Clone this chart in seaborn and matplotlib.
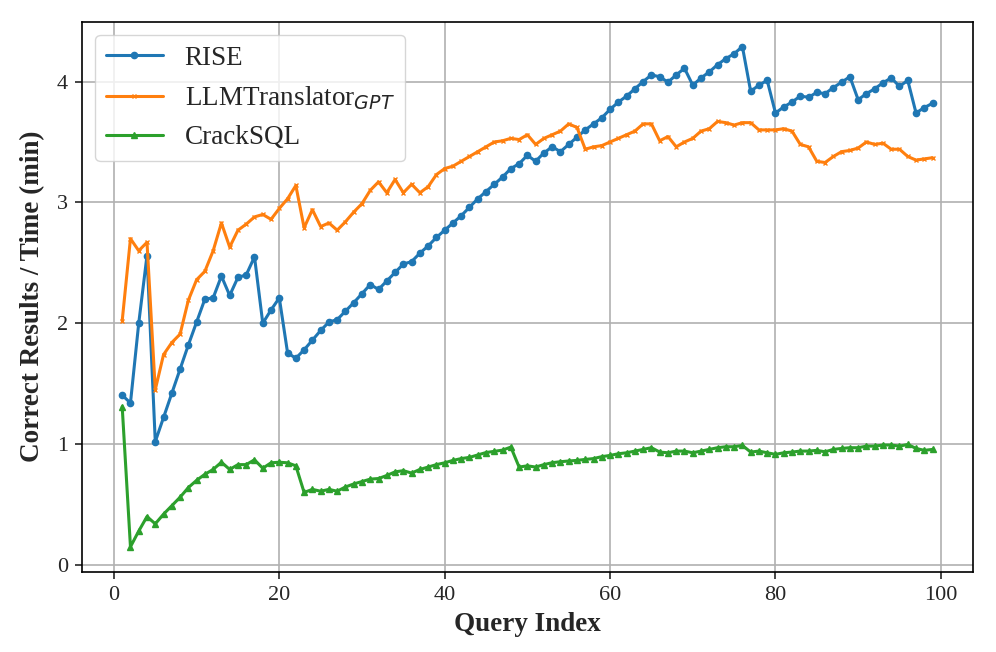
import numpy as np
import pandas as pd
import matplotlib
matplotlib.use("Agg")
import matplotlib.pyplot as plt
import seaborn as sns

# query index 1..99
query_idx = list(range(1, 100))

rise = [1.405, 1.34, 2.00, 2.56, 1.02, 1.22, 1.42, 1.62, 1.82, 2.01,
        2.20, 2.21, 2.39, 2.23, 2.38, 2.40, 2.55, 2.00, 2.11, 2.21,
        1.755, 1.71, 1.78, 1.86, 1.94, 2.01, 2.03, 2.10, 2.17, 2.245,
        2.32, 2.28, 2.35, 2.42, 2.49, 2.51, 2.58, 2.64, 2.71, 2.77,
        2.83, 2.89, 2.96, 3.03, 3.09, 3.15, 3.21, 3.28, 3.32, 3.39,
        3.34, 3.41, 3.46, 3.42, 3.48, 3.54, 3.60, 3.65, 3.70, 3.77,
        3.83, 3.88, 3.94, 4.00, 4.055, 4.04, 3.995, 4.055, 4.11, 3.97,
        4.03, 4.08, 4.14, 4.19, 4.23, 4.29, 3.92, 3.97, 4.01, 3.74,
        3.79, 3.83, 3.88, 3.87, 3.91, 3.90, 3.95, 3.995, 4.04, 3.85,
        3.90, 3.94, 3.99, 4.03, 3.96, 4.01, 3.74, 3.785, 3.82]

llm_gpt = [2.02, 2.70, 2.60, 2.67, 1.45, 1.74, 1.84, 1.91, 2.19, 2.36,
           2.43, 2.60, 2.83, 2.63, 2.77, 2.82, 2.88, 2.90, 2.86, 2.95,
           3.03, 3.14, 2.79, 2.94, 2.80, 2.83, 2.77, 2.84, 2.92, 2.99,
           3.10, 3.17, 3.08, 3.19, 3.08, 3.15, 3.08, 3.13, 3.23, 3.28,
           3.30, 3.34, 3.38, 3.42, 3.46, 3.50, 3.51, 3.53, 3.52, 3.56,
           3.48, 3.53, 3.56, 3.59, 3.65, 3.62, 3.44, 3.46, 3.47, 3.50,
           3.53, 3.56, 3.59, 3.65, 3.65, 3.51, 3.545, 3.46, 3.50, 3.53,
           3.59, 3.61, 3.67, 3.66, 3.64, 3.66, 3.66, 3.60, 3.60, 3.60,
           3.61, 3.59, 3.48, 3.46, 3.34, 3.33, 3.38, 3.42, 3.43, 3.45,
           3.50, 3.48, 3.49, 3.44, 3.44, 3.38, 3.35, 3.36, 3.37]

cracksql = [1.31, 0.15, 0.28, 0.40, 0.34, 0.42, 0.49, 0.56, 0.64, 0.70,
            0.75, 0.79, 0.85, 0.79, 0.83, 0.83, 0.87, 0.80, 0.845, 0.85,
            0.845, 0.82, 0.60, 0.625, 0.61, 0.625, 0.61, 0.645, 0.67, 0.69,
            0.71, 0.715, 0.74, 0.77, 0.78, 0.76, 0.79, 0.81, 0.83, 0.845,
            0.865, 0.88, 0.89, 0.91, 0.93, 0.94, 0.95, 0.975, 0.81, 0.82,
            0.81, 0.83, 0.846, 0.854, 0.86, 0.865, 0.873, 0.88, 0.896, 0.906,
            0.92, 0.928, 0.942, 0.956, 0.97, 0.934, 0.928, 0.942, 0.942, 0.928,
            0.942, 0.956, 0.97, 0.978, 0.978, 0.989, 0.934, 0.942, 0.928, 0.915,
            0.928, 0.934, 0.942, 0.942, 0.948, 0.936, 0.956, 0.964, 0.97, 0.97,
            0.983, 0.983, 0.992, 0.992, 0.983, 0.997, 0.964, 0.948, 0.956]

names = ["RISE", "LLMTranslator$_{GPT}$", "CrackSQL"]
colors = ["#1f77b4", "#ff7f0e", "#2ca02c"]
markers = ["o", "x", "^"]
msizes = [4.5, 3.5, 5]

df = pd.DataFrame({"query": query_idx * 3,
                   "value": rise + llm_gpt + cracksql,
                   "method": [n for n in names for _ in query_idx]})

sns.set_style("ticks")
plt.rcParams["font.family"] = ["Liberation Serif", "DejaVu Sans"]

fig, ax = plt.subplots(figsize=(9.96, 6.52), dpi=100)
fig.subplots_adjust(left=0.082, right=0.977, top=0.967, bottom=0.123)

for name, c, m, ms in zip(names, colors, markers, msizes):
    sub = df[df["method"] == name]
    sns.lineplot(data=sub, x="query", y="value", color=c, marker=m,
                 markersize=ms, markeredgewidth=1.0,
                 markeredgecolor=c, linewidth=2.2, label=name, ax=ax)

ax.set_xticks([0, 20, 40, 60, 80, 100])
ax.set_yticks([0, 1, 2, 3, 4])
ax.tick_params(labelsize=16, length=5, width=1.2, pad=5)
ax.grid(True, color="#b0b0b0", linewidth=1.2)
ax.set_xlabel("Query Index", fontsize=19.5, fontweight="bold", labelpad=5)
ax.set_ylabel("Correct Results / Time (min)", fontsize=19.5, fontweight="bold", labelpad=8)
for s in ax.spines.values():
    s.set_color("black")
    s.set_linewidth(1.2)

ax.legend(loc="upper left", fontsize=19.5, handlelength=2.1, framealpha=0.8)

plt.savefig("out.png", dpi=100)
